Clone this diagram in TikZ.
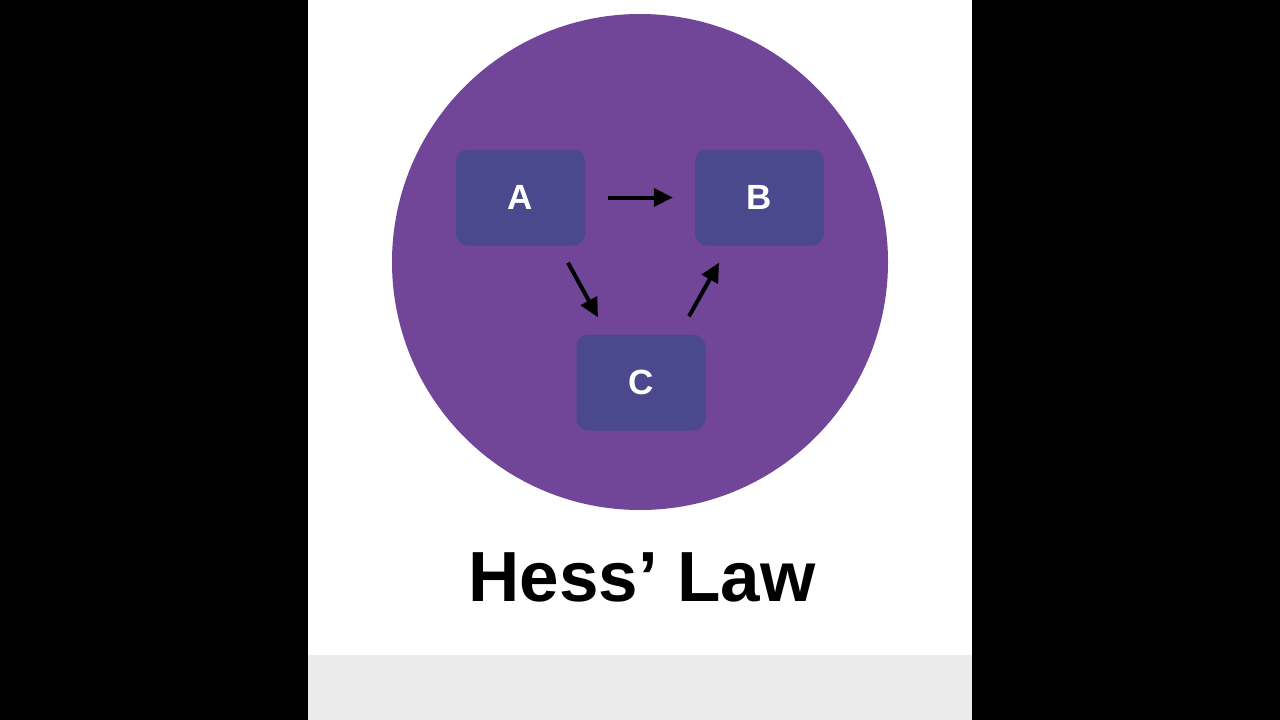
\documentclass[tikz,border=0pt]{standalone}
\usepackage{fontspec}
\setmainfont{Liberation Sans}
\usetikzlibrary{arrows.meta,calc}
\definecolor{bgblack}{RGB}{0,0,0}
\definecolor{panelgray}{RGB}{235,235,235}
\definecolor{circpurple}{RGB}{113,69,152}
\definecolor{boxblue}{RGB}{74,73,141}
\tikzset{
  statebox/.style={fill=boxblue, rounded corners=12pt, minimum width=129pt, minimum height=96pt,
    inner sep=0pt, text=white, font=\fontsize{35}{40}\selectfont\bfseries},
  arr/.style={line width=4pt, -{Triangle[length=19pt,width=18pt]}}
}
\begin{document}
\begin{tikzpicture}[x=1pt,y=-1pt]
\useasboundingbox (0,0) rectangle (1280,720);
\fill[bgblack] (0,0) rectangle (1280,720);
\fill[white] (308,0) rectangle (972,655);
\fill[panelgray] (308,655) rectangle (972,720);
\fill[circpurple] (640,262) circle[radius=248];
\node[statebox] (A) at (520.5,197.5) {A};
\node[statebox] (B) at (759.5,197.5) {B};
\node[statebox] (C) at (641,382.5) {C};
\coordinate (ac1) at ([shift={(47.5,17)}]A.south);
\coordinate (ac2) at ([shift={(-43,-17)}]C.north);
\coordinate (cb1) at ([shift={(48,-18)}]C.north);
\coordinate (cb2) at ([shift={(-40.5,17)}]B.south);
\draw[arr, shorten <=23pt, shorten >=22pt] (A.east) -- (B.west);
\draw[arr] (ac1) -- (ac2);
\draw[arr] (cb1) -- (cb2);
\node[anchor=base, inner sep=0pt, font=\fontsize{71}{80}\selectfont\bfseries] (title) at (642,601) {Hess’ Law};
\end{tikzpicture}
\end{document}
